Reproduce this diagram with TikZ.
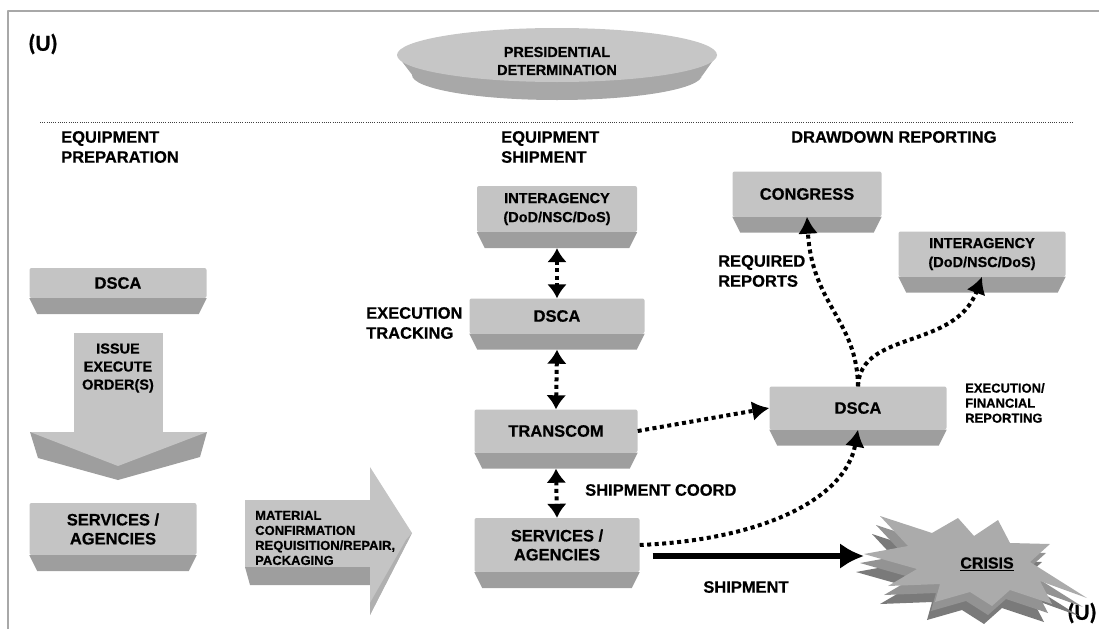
\documentclass[tikz,border=0pt]{standalone}
\usepackage{fontspec}
\setmainfont{Liberation Sans}
\newfontfamily\boldsans{Liberation Sans Bold}[FakeBold=0.6]
\newfontfamily\calbold{Carlito Bold}[FakeBold=0.6]
\usetikzlibrary{arrows.meta}

\definecolor{boxlight}{HTML}{C4C4C4}
\definecolor{boxdark}{HTML}{9E9E9E}
\definecolor{ovallight}{HTML}{C6C6C6}
\definecolor{ovaldark}{HTML}{A8A8A8}
\definecolor{framegray}{HTML}{A8A8A8}
\definecolor{starlight}{HTML}{ABABAB}
\definecolor{starmid}{HTML}{939393}
\definecolor{stardark}{HTML}{7A7A7A}

\tikzset{
  box/.style={fill=boxlight, rounded corners=2pt, inner sep=0pt, align=center,
    font=\boldsans\fontsize{16.5}{19}\selectfont},
  smallbox/.style={box, font=\boldsans\fontsize{14.5}{19}\selectfont},
  heading/.style={inner sep=0pt, align=left, font=\boldsans\fontsize{16.5}{20}\selectfont},
  note/.style={inner sep=0pt, align=left, font=\boldsans\fontsize{13}{15}\selectfont},
  dotarrow/.style={line width=4pt, dash pattern=on 4pt off 3.5pt,
    -{Latex[length=17pt,width=20pt]}},
  dotboth/.style={line width=4pt, dash pattern=on 4pt off 3.5pt,
    {Latex[length=14pt,width=20pt]}-{Latex[length=14pt,width=20pt]}},
  uflag/.style={inner sep=0pt, font=\calbold\fontsize{23}{23}\selectfont}
}

\begin{document}
\begin{tikzpicture}[x=1pt,y=-1pt,line join=round]
  \useasboundingbox (0,0) rectangle (1099,629);
  \draw[framegray, line width=2pt] (8,629) -- (8,11) -- (1099,11);
  \node[uflag] (uTop) at (43,44) {(U)};
  \node[uflag] (uBot) at (1082,613) {(U)};

  % presidential determination disc
  \fill[ovaldark] (397,55) -- (413,76) -- (702,76) -- (717,55) -- cycle;
  \fill[ovaldark] (557,75) ellipse [x radius=145, y radius=25];
  \fill[ovallight] (557,55) ellipse [x radius=160, y radius=27];
  \node[align=center, inner sep=0pt, font=\boldsans\fontsize{14.5}{18}\selectfont]
    (pd) at (557,61) {PRESIDENTIAL\\DETERMINATION};

  \draw[black!75, line width=0.8pt, dash pattern=on 1pt off 1.2pt] (40,122) -- (1073,122);

  \node[heading, anchor=west] (prep) at (61,147) {EQUIPMENT\\PREPARATION};
  \node[heading, anchor=west] (ship) at (501,147) {EQUIPMENT\\SHIPMENT};
  \node[heading, anchor=west] (drawdown) at (791,137) {DRAWDOWN REPORTING};

  % left column
  \node[box, minimum width=177pt, minimum height=30pt] (dscaL) at (118,283) {DSCA};
  \fill[boxlight] (74,333) rectangle (163,432);
  \fill[boxdark] (74,432) -- (30,432) -- (38,458) -- (118,480) -- (200,457) -- (207,432) -- cycle;
  \fill[boxlight] (30,432) -- (207,432) -- (118,466) -- cycle;
  \node[align=center, inner sep=0pt, font=\boldsans\fontsize{14.5}{18}\selectfont]
    (issue) at (118,368) {ISSUE\\EXECUTE\\ORDER(S)};
  \node[box, minimum width=167pt, minimum height=52pt] (servL) at (113,529) {SERVICES /\\AGENCIES};

  % material arrow
  \fill[boxdark] (245,567) -- (370,567) -- (370,585) -- (250,585) -- cycle;
  \fill[boxlight] (245,500) rectangle (370,567);
  \fill[boxlight] (370,467) -- (412,533) -- (370,615) -- cycle;
  \fill[ovaldark!70!boxlight] (412,533) -- (370,615) -- (370,603) -- (406,540) -- cycle;
  \node[note, anchor=west] (material) at (255,538)
    {MATERIAL\\CONFIRMATION\\REQUISITION/REPAIR,\\PACKAGING};

  % shipment column
  \node[smallbox, minimum width=160pt, minimum height=46pt] (interM) at (557,209) {INTERAGENCY\\(DoD/NSC/DoS)};
  \node[box, minimum width=175pt, minimum height=35pt] (dscaM) at (557,316) {DSCA};
  \node[box, minimum width=163pt, minimum height=43pt] (trans) at (556,431) {TRANSCOM};
  \node[box, minimum width=165pt, minimum height=54pt] (servM) at (557,545) {SERVICES /\\AGENCIES};

  % reporting column
  \node[box, minimum width=149pt, minimum height=45pt] (congress) at (807,194) {CONGRESS};
  \node[smallbox, minimum width=167pt, minimum height=45pt] (interR) at (982,254) {INTERAGENCY\\(DoD/NSC/DoS)};
  \node[box, minimum width=177pt, minimum height=43pt] (dscaR) at (858,408) {DSCA};

  % bevel under every box
  \foreach \n in {dscaL,servL,interM,dscaM,trans,servM,congress,interR,dscaR}
    \fill[boxdark] (\n.south west) -- (\n.south east) -- ([xshift=-8pt,yshift=-16pt]\n.south east)
      -- ([xshift=8pt,yshift=-16pt]\n.south west) -- cycle;

  % crisis burst
  \foreach \dx/\dy/\c in {-8/18/stardark, -4/9/starmid, 0/0/starlight}
    \fill[\c, shift={(\dx,\dy)}] plot coordinates {(880,516) (932,533) (958,518) (974,536)
      (998,520) (1010,543) (1050,544) (1030,562) (1087,598) (1040,581) (1052,604)
      (1010,590) (992,606) (970,592) (935,602) (940,584) (888,586) (917,569) (864,554)
      (908,546)} -- cycle;
  \node[font=\boldsans\fontsize{16}{19}\selectfont] (crisis) at (987,564) {\underline{CRISIS}};
  \coordinate (crisisTip) at (864,556);

  % connectors
  \draw[dotboth] ([yshift=-16pt]interM.south) -- (dscaM.north);
  \draw[dotboth] ([yshift=-16pt]dscaM.south) -- (trans.north);
  \draw[dotboth] ([yshift=-16pt]trans.south) -- (servM.north);
  \draw[dotarrow] (trans.east) -- (dscaR.west);
  \draw[dotarrow] (dscaR.north) .. controls (857,320) and (812,305) .. (congress.south);
  \draw[dotarrow] (dscaR.north) .. controls (860,330) and (955,350) .. (interR.south);
  \draw[dotarrow] (servM.east) .. controls (760,540) and (845,500) .. (dscaR.south);
  \draw[line width=6pt, -{Latex[length=24pt,width=26pt]}] ([xshift=13pt,yshift=-11pt]servM.east) -- (crisisTip);

  % labels
  \node[heading, anchor=west] (track) at (366,323) {EXECUTION\\TRACKING};
  \node[heading, anchor=west] (required) at (718,271) {REQUIRED\\REPORTS};
  \node[note, anchor=west] (finance) at (965,403) {EXECUTION/\\FINANCIAL\\REPORTING};
  \node[heading, anchor=west] (coord) at (585,490) {SHIPMENT COORD};
  \node[heading] (shipment) at (746,587) {SHIPMENT};
\end{tikzpicture}
\end{document}
